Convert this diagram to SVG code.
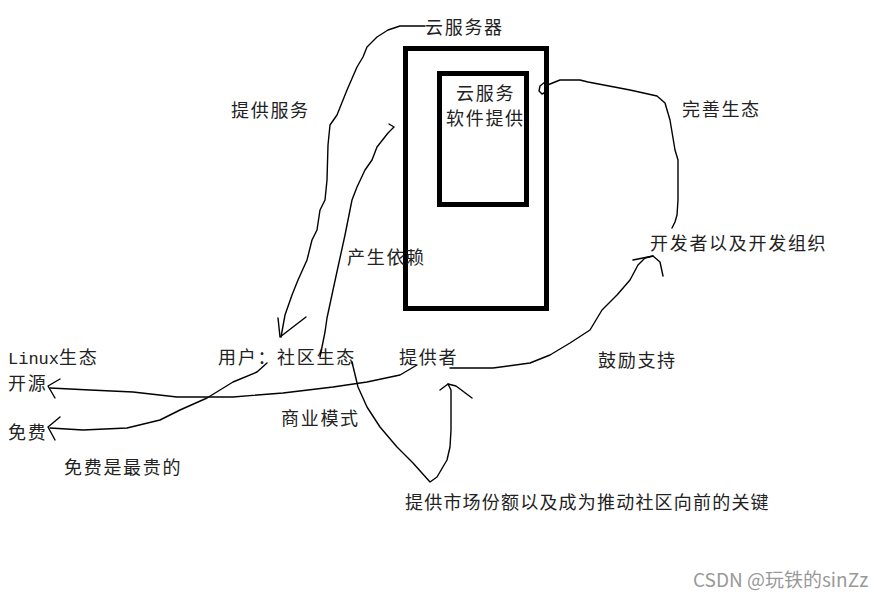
<svg xmlns="http://www.w3.org/2000/svg" width="886" height="601" viewBox="0 0 886 601">
<style>
.t{font-family:"Noto Sans CJK SC","Liberation Serif",sans-serif;font-size:18px;fill:#222;letter-spacing:1.7px}
.c{fill:none;stroke:#000;stroke-width:1.4;stroke-linejoin:round;stroke-linecap:round}
.box{fill:none;stroke:#000;stroke-width:5}
</style>
<rect width="886" height="601" fill="#fff"/>
<g id="server">
<rect class="box" x="405.500" y="48.500" width="141" height="260"/>
<text class="t" x="425" y="34">云服务器</text>
</g>
<g id="software">
<rect class="box" x="439.500" y="73.500" width="87" height="131"/>
<text class="t" x="456" y="100">云服务</text>
<text class="t" x="446" y="125">软件提供</text>
</g>
<g id="labels">
<text class="t" x="231" y="117">提供服务</text>
<text class="t" x="682" y="116">完善生态</text>
<text class="t" x="650" y="250">开发者以及开发组织</text>
<text class="t" x="347" y="264">产生依赖</text>
<text class="t" x="8" y="364"><tspan style="font-family:'Liberation Mono',monospace;font-size:17px;letter-spacing:0">Linux</tspan>生态</text>
<text class="t" x="218" y="364">用户：社区生态</text>
<text class="t" x="399" y="364">提供者</text>
<text class="t" x="598" y="367">鼓励支持</text>
<text class="t" x="8" y="390">开源</text>
<text class="t" x="8" y="439">免费</text>
<text class="t" x="281" y="425">商业模式</text>
<text class="t" x="64" y="474">免费是最贵的</text>
<text class="t" x="405" y="509" style="letter-spacing:1.2px">提供市场份额以及成为推动社区向前的关键</text>
</g>
<g id="connectors">
<path class="c" d="M425,26 L400,26 L388,30 L377,37 L367,47 L363,57 L357,67 L347,90 L337,115 L330,125 L328,145 L327,180 L325,200 L320,210 L317,230 L312,240 L307,260 L298,280 L292,295 L285,315 L281,337"/>
<path class="c" d="M278,318 L280,337 L306,317"/>
<path class="c" d="M320,357 L325,332 L327,318 L333,290 L338,267 L345,235 L352,200 L357,187 L365,170 L372,160 L377,147 L388,133 L394,127 L389,124"/>
<path class="c" d="M672,228 L675,222 L677,215 L678,200 L678,160 L675,150 L670,120 L665,103 L657,96 L630,90 L588,82 L580,80 L560,80 L550,84 L545,86"/>
<path class="c" d="M545,82 L540,86 L539,91 L542,94 L546,92"/>
<path class="c" d="M450,368 L493,368 L530,363 L550,355 L570,343 L590,330 L602,310 L617,295 L630,280 L638,265 L645,258 L653,256 L660,262 L663,276"/>
<path class="c" d="M633,260 L653,256"/>
<path class="c" d="M417,365 L400,375 L367,382 L333,387 L283,393 L233,397 L177,397 L133,392 L90,390 L50,388"/>
<path class="c" d="M60,379 L48,386 L55,398"/>
<path class="c" d="M267,363 L257,372 L233,382 L207,398 L180,410 L160,420 L127,428 L83,430 L50,428"/>
<path class="c" d="M60,417 L48,427 L55,440"/>
<path class="c" d="M352,362 L358,387 L367,407 L380,427 L397,447 L413,463 L430,482 L437,477 L447,460 L450,447 L451,430 L451,390 L448,384"/>
<path class="c" d="M440,390 L448,384 L456,386 L472,398"/>
</g>
<text x="693" y="587" font-family="'Noto Sans CJK SC',Roboto,sans-serif" font-size="19" fill="#999">CSDN @玩铁的sinZz</text>
</svg>
